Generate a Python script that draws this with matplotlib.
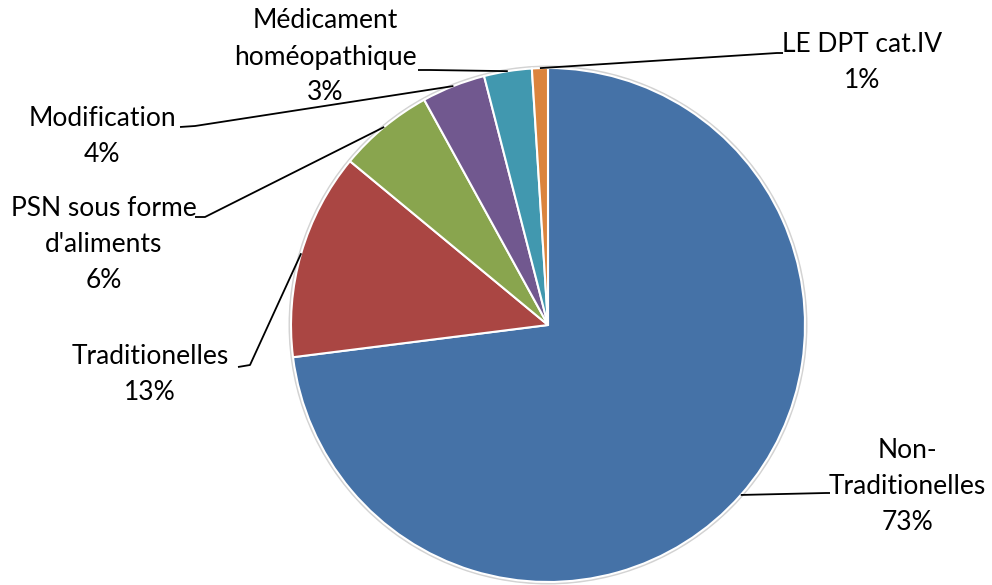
import numpy as np
import matplotlib

matplotlib.use("Agg")
import matplotlib.pyplot as plt

# data
categories = ["Non-\nTraditionelles", "Traditionelles", "PSN sous forme\nd'aliments",
              "Modification", "Médicament\nhoméopathique", "LE DPT cat.IV"]
values = [73, 13, 6, 4, 3, 1]
colors = ["#4572A7", "#AA4643", "#89A54E", "#71588F", "#4198AF", "#DB843D"]

# layout in pixels (figure 992x585), pie centre and radius
W, H = 992, 585
CX, CY, R = 548, 325, 257

# label centre, elbow point, line end near label (pixels)
label_pos = [(907, 487), (150, 375), (104, 245), (102, 137), (325, 57), (862, 63)]
elbow_pos = [(826, 493), (250, 365), (205, 217), (195, 126), (430, 70), (777, 53)]
end_pos = [(830, 493), (238, 367), (195, 217), (180, 127), (418, 70), (783, 53)]


def px(p):
    return ((p[0] - CX) / R, (CY - p[1]) / R)


plt.rcParams["font.family"] = ["Lato", "DejaVu Sans"]

fig = plt.figure(figsize=(W / 100, H / 100), dpi=100)
ax = fig.add_axes([0, 0, 1, 1])

# soft shadow ring
ax.add_patch(plt.Circle((0, 0), 1.007, color="#d3d3d3", zorder=0))

wedges, _ = ax.pie(values, colors=colors, startangle=90, counterclock=False,
                   radius=1, wedgeprops=dict(edgecolor="white", linewidth=1.5))

# pie() resets limits/aspect, so set them afterwards
ax.set_aspect("auto")
ax.set_xlim(-CX / R, (W - CX) / R)
ax.set_ylim(-(H - CY) / R, CY / R)
ax.axis("off")

total = sum(values)
for w, cat, v, lp, el, en in zip(wedges, categories, values, label_pos, elbow_pos, end_pos):
    mid = np.deg2rad((w.theta1 + w.theta2) / 2)
    anchor = (np.cos(mid), np.sin(mid))
    e1, e2 = px(el), px(en)
    ax.plot([anchor[0], e1[0], e2[0]], [anchor[1], e1[1], e2[1]],
            color="black", lw=1.3, solid_capstyle="butt", zorder=3)
    lx, ly = px(lp)
    ax.text(lx, ly, f"{cat}\n{round(100 * v / total)}%", ha="center", va="center",
            fontsize=19, linespacing=1.55, color="black")

fig.savefig("out.png", dpi=100)
